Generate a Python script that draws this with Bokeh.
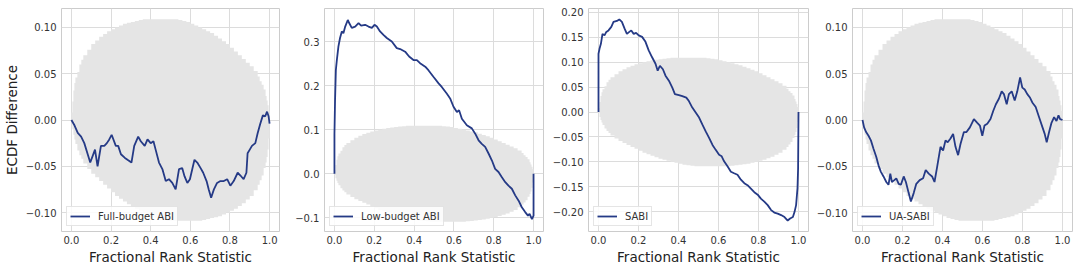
from bokeh.plotting import figure
from bokeh.layouts import row
from bokeh.models import FixedTicker, Range1d, Legend, LegendItem
from bokeh.embed import file_html
from bokeh.resources import INLINE

# ---------------- data ----------------
band_x = [0.0, 0.005, 0.01, 0.015, 0.02, 0.03, 0.04, 0.05, 0.06,
          0.08, 0.10, 0.12, 0.14, 0.16, 0.18, 0.20, 0.22, 0.24, 0.26, 0.28, 0.30, 0.32, 0.34,
          0.36, 0.38, 0.40, 0.42, 0.44, 0.46, 0.48, 0.50, 0.52,
          0.54, 0.56, 0.58, 0.60, 0.62, 0.64, 0.66, 0.68, 0.70, 0.72, 0.74, 0.76, 0.78, 0.80, 0.82, 0.84,
          0.86, 0.88, 0.90, 0.92,
          0.94, 0.95, 0.96, 0.97, 0.98, 0.985, 0.99, 0.995, 1.0]
band_upper = [0.008, 0.020, 0.032, 0.040, 0.046, 0.052, 0.060, 0.065, 0.070,
              0.076, 0.082, 0.086, 0.090, 0.093, 0.096, 0.098, 0.100, 0.102, 0.104, 0.105, 0.106, 0.107, 0.108,
              0.109, 0.109, 0.109, 0.109, 0.109, 0.109, 0.109, 0.109, 0.109,
              0.108, 0.107, 0.106, 0.104, 0.102, 0.100, 0.098, 0.096, 0.094, 0.091, 0.088, 0.085, 0.082, 0.078,
              0.074, 0.070, 0.066, 0.062, 0.058, 0.053,
              0.047, 0.042, 0.038, 0.033, 0.026, 0.021, 0.016, 0.010, 0.002]
band_lower = [-0.002, -0.010, -0.016, -0.021, -0.026, -0.033, -0.038, -0.042, -0.047,
              -0.053, -0.058, -0.062, -0.066, -0.070, -0.074, -0.078, -0.082, -0.085, -0.088, -0.091, -0.094,
              -0.096, -0.098, -0.100, -0.102, -0.104, -0.106, -0.107, -0.108,
              -0.109, -0.109, -0.109, -0.109, -0.109, -0.109, -0.109, -0.109, -0.109,
              -0.108, -0.107, -0.106, -0.105, -0.104, -0.102, -0.100, -0.098, -0.096, -0.093, -0.090, -0.086,
              -0.082, -0.076,
              -0.070, -0.065, -0.060, -0.052, -0.046, -0.040, -0.032, -0.020, -0.008]

full_x = [0.0, 0.016, 0.032, 0.049, 0.065, 0.085, 0.095, 0.107, 0.119, 0.132, 0.149, 0.166, 0.179, 0.191,
          0.203, 0.224, 0.236, 0.25, 0.27, 0.283, 0.303, 0.317, 0.337, 0.35, 0.37, 0.384, 0.40, 0.414, 0.425,
          0.442, 0.459, 0.476, 0.492, 0.509, 0.526, 0.543, 0.559, 0.571, 0.585, 0.598, 0.61, 0.621, 0.635,
          0.652, 0.665, 0.682, 0.693, 0.705, 0.719, 0.735, 0.752, 0.769, 0.786, 0.802, 0.819, 0.839, 0.853,
          0.869, 0.883, 0.889, 0.90, 0.911, 0.928, 0.94, 0.953, 0.966, 0.978, 0.987, 0.995, 1.0]
full_y = [0.0, -0.006, -0.014, -0.018, -0.025, -0.039, -0.046, -0.039, -0.032, -0.050, -0.028, -0.028, -0.025,
          -0.021, -0.016, -0.028, -0.028, -0.037, -0.041, -0.043, -0.046, -0.028, -0.018, -0.023, -0.028, -0.021,
          -0.025, -0.023, -0.032, -0.046, -0.053, -0.066, -0.064, -0.068, -0.075, -0.053, -0.052, -0.061, -0.068,
          -0.064, -0.053, -0.043, -0.046, -0.052, -0.057, -0.066, -0.075, -0.084, -0.075, -0.068, -0.066, -0.066,
          -0.064, -0.071, -0.066, -0.057, -0.060, -0.064, -0.057, -0.036, -0.032, -0.028, -0.025, -0.014, -0.004,
          0.005, 0.004, 0.009, 0.004, -0.004]

low_x = [0.0, 0.0, 0.003, 0.007, 0.012, 0.02, 0.028, 0.037, 0.045, 0.054, 0.067, 0.074, 0.087, 0.104, 0.121,
         0.134, 0.154, 0.171, 0.188, 0.201, 0.213, 0.229, 0.246, 0.263, 0.288, 0.313, 0.33, 0.355, 0.375, 0.397,
         0.414, 0.43, 0.456, 0.472, 0.497, 0.523, 0.539, 0.564, 0.581, 0.598, 0.615, 0.626, 0.64, 0.665, 0.69,
         0.707, 0.724, 0.74, 0.757, 0.774, 0.791, 0.807, 0.824, 0.841, 0.858, 0.874, 0.891, 0.908, 0.925, 0.941,
         0.958, 0.972, 0.98, 0.992, 1.0, 1.0]
low_y = [0.0, 0.09, 0.167, 0.235, 0.258, 0.289, 0.308, 0.323, 0.319, 0.334, 0.349, 0.342, 0.331, 0.334, 0.342,
         0.336, 0.338, 0.334, 0.331, 0.338, 0.334, 0.323, 0.315, 0.308, 0.300, 0.285, 0.283, 0.277, 0.266, 0.258,
         0.258, 0.251, 0.243, 0.235, 0.220, 0.205, 0.197, 0.182, 0.171, 0.152, 0.140, 0.144, 0.125, 0.110, 0.103,
         0.091, 0.076, 0.068, 0.061, 0.046, 0.030, 0.011, 0.004, -0.008, -0.019, -0.027, -0.034, -0.049, -0.061,
         -0.076, -0.087, -0.095, -0.091, -0.103, -0.095, 0.0]

sabi_x = [0.0, 0.0, 0.005, 0.012, 0.02, 0.03, 0.039, 0.05, 0.064, 0.075, 0.092, 0.104, 0.117, 0.131, 0.142,
          0.154, 0.164, 0.176, 0.188, 0.201, 0.218, 0.235, 0.251, 0.268, 0.285, 0.296, 0.307, 0.322, 0.335,
          0.352, 0.369, 0.382, 0.402, 0.419, 0.439, 0.452, 0.469, 0.486, 0.503, 0.519, 0.536, 0.553, 0.57,
          0.586, 0.603, 0.616, 0.628, 0.645, 0.662, 0.678, 0.695, 0.712, 0.729, 0.745, 0.762, 0.779, 0.796,
          0.812, 0.829, 0.846, 0.863, 0.879, 0.896, 0.913, 0.93, 0.946, 0.958, 0.972, 0.98, 0.988, 0.995,
          0.998, 1.0]
sabi_y = [0.0, 0.117, 0.127, 0.137, 0.157, 0.154, 0.161, 0.164, 0.171, 0.181, 0.183, 0.186, 0.181, 0.167, 0.157,
          0.161, 0.164, 0.157, 0.159, 0.154, 0.151, 0.141, 0.124, 0.110, 0.097, 0.083, 0.093, 0.086, 0.073,
          0.063, 0.049, 0.036, 0.034, 0.032, 0.029, 0.022, 0.009, -0.001, -0.011, -0.025, -0.039, -0.052, -0.066,
          -0.076, -0.086, -0.089, -0.099, -0.109, -0.120, -0.123, -0.126, -0.136, -0.143, -0.147, -0.154, -0.161,
          -0.166, -0.174, -0.180, -0.187, -0.197, -0.202, -0.204, -0.207, -0.211, -0.218, -0.214, -0.211, -0.201,
          -0.187, -0.153, -0.113, 0.0]

ua_x = [0.0, 0.008, 0.018, 0.03, 0.042, 0.055, 0.069, 0.08, 0.092, 0.105, 0.119, 0.13, 0.139, 0.147, 0.159,
        0.169, 0.181, 0.192, 0.206, 0.217, 0.231, 0.242, 0.256, 0.269, 0.286, 0.303, 0.316, 0.331, 0.348, 0.36,
        0.373, 0.39, 0.403, 0.415, 0.426, 0.44, 0.453, 0.465, 0.478, 0.49, 0.507, 0.52, 0.537, 0.557, 0.574,
        0.587, 0.599, 0.61, 0.624, 0.64, 0.654, 0.667, 0.682, 0.696, 0.707, 0.721, 0.732, 0.746, 0.761, 0.774,
        0.788, 0.799, 0.811, 0.824, 0.838, 0.849, 0.866, 0.883, 0.9, 0.911, 0.921, 0.933, 0.945, 0.958, 0.97,
        0.98, 0.988, 1.0]
ua_y = [0.0, -0.008, -0.013, -0.017, -0.022, -0.031, -0.040, -0.049, -0.056, -0.061, -0.067, -0.070, -0.058,
        -0.067, -0.065, -0.063, -0.069, -0.070, -0.061, -0.067, -0.079, -0.088, -0.079, -0.069, -0.065, -0.063,
        -0.054, -0.058, -0.061, -0.067, -0.051, -0.029, -0.033, -0.022, -0.024, -0.020, -0.015, -0.029, -0.038,
        -0.026, -0.013, -0.013, -0.008, 0.001, -0.003, -0.006, -0.017, -0.006, -0.004, 0.001, 0.010, 0.017,
        0.023, 0.031, 0.028, 0.017, 0.028, 0.031, 0.021, 0.031, 0.046, 0.035, 0.033, 0.028, 0.024, 0.019, 0.014,
        0.003, -0.008, -0.015, -0.024, -0.013, -0.003, 0.003, -0.001, 0.005, 0.001, 0.0]

x_ticks = [0.0, 0.2, 0.4, 0.6, 0.8, 1.0]
x_tick_labels = ["0.0", "0.2", "0.4", "0.6", "0.8", "1.0"]
y_ticks_a = [-0.10, -0.05, 0.0, 0.05, 0.10]
y_labels_a = ["\u22120.10", "\u22120.05", "0.00", "0.05", "0.10"]
y_ticks_b = [-0.1, 0.0, 0.1, 0.2, 0.3]
y_labels_b = ["\u22120.1", "0.0", "0.1", "0.2", "0.3"]
y_ticks_c = [-0.20, -0.15, -0.10, -0.05, 0.0, 0.05, 0.10, 0.15, 0.20]
y_labels_c = ["\u22120.20", "\u22120.15", "\u22120.10", "\u22120.05", "0.00", "0.05", "0.10", "0.15", "0.20"]

LINE = "#253a86"
BAND = "#e5e5e5"
GRID = "#dcdcdc"
TXT = "#333333"
FONT = "DejaVu Sans"

# step ("post") outline of the band, derived from the band arrays
step_x, step_lo, step_hi = [], [], []
for i in range(len(band_x) - 1):
    step_x += [band_x[i], band_x[i + 1]]
    step_lo += [band_lower[i], band_lower[i]]
    step_hi += [band_upper[i], band_upper[i]]


def make_panel(xs, ys, label, yticks, ylabels, yr, width, bl, br, ylabel=None):
    p = figure(width=width, height=270, output_backend="svg", toolbar_location=None,
               x_range=Range1d(-0.05, 1.05), y_range=Range1d(*yr),
               min_border_left=bl, min_border_right=br, min_border_top=8, min_border_bottom=39)
    p.outline_line_color = "#cccccc"
    p.outline_line_width = 1
    p.background_fill_color = "white"
    p.border_fill_color = "white"
    p.xgrid.grid_line_color = GRID
    p.ygrid.grid_line_color = GRID
    p.xgrid.ticker = FixedTicker(ticks=x_ticks)
    p.ygrid.ticker = FixedTicker(ticks=yticks)

    p.varea(x=step_x, y1=step_lo, y2=step_hi, fill_color=BAND)
    r = p.line(xs, ys, line_color=LINE, line_width=1.8)

    for ax in (p.xaxis[0], p.yaxis[0]):
        ax.axis_line_color = None
        ax.major_tick_line_color = None
        ax.minor_tick_line_color = None
        ax.major_tick_out = 0
        ax.major_tick_in = 0
        ax.minor_tick_out = 0
        ax.major_label_text_font = FONT
        ax.major_label_text_font_size = "10px"
        ax.major_label_text_color = TXT
        ax.axis_label_text_font = FONT
        ax.axis_label_text_font_size = "13.5px"
        ax.axis_label_text_font_style = "normal"
        ax.axis_label_text_color = "#222222"
    p.xaxis.ticker = FixedTicker(ticks=x_ticks)
    p.xaxis.major_label_overrides = dict(zip(x_ticks, x_tick_labels))
    p.xaxis.major_label_standoff = 4
    p.xaxis.axis_label = "Fractional Rank Statistic"
    p.xaxis.axis_label_standoff = 2
    p.yaxis.ticker = FixedTicker(ticks=yticks)
    p.yaxis.major_label_standoff = 5
    p.yaxis.major_label_overrides = dict(zip(yticks, ylabels))
    if ylabel:
        p.yaxis.axis_label = ylabel
        p.yaxis.axis_label_standoff = 3

    leg = Legend(items=[LegendItem(label=label, renderers=[r])], location="bottom_left",
                 label_text_font=FONT, label_text_font_size="10px", label_text_color=TXT,
                 glyph_width=20, glyph_height=12, label_height=12, label_standoff=8,
                 padding=3, margin=5, spacing=0,
                 border_line_color="#cccccc", border_line_width=1,
                 background_fill_color="white", background_fill_alpha=0.85)
    p.add_layout(leg, "center")
    return p


p1 = make_panel(full_x, full_y, "Full-budget ABI", y_ticks_a, y_labels_a, (-0.1205, 0.1205), 290, 60, 11,
                ylabel="ECDF Difference")
p2 = make_panel(low_x, low_y, "Low-budget ABI", y_ticks_b, y_labels_b, (-0.131, 0.375), 258, 34, 5)
p3 = make_panel(sabi_x, sabi_y, "SABI", y_ticks_c, y_labels_c, (-0.240, 0.208), 264, 40, 4)
p4 = make_panel(ua_x, ua_y, "UA-SABI", y_ticks_a, y_labels_a, (-0.1205, 0.1205), 268, 40, 8)

layout = row(p1, p2, p3, p4, spacing=0)
open("out.html", "w").write(file_html(layout, INLINE))
